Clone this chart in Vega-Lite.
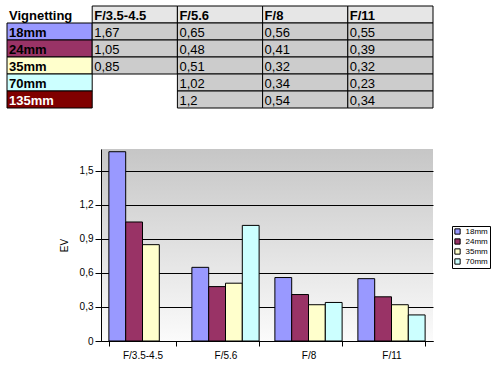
{
  "$schema": "https://vega.github.io/schema/vega-lite/v6.json",
  "padding": {"left": 6, "top": 5, "right": 0, "bottom": 0},
  "background": "white",
  "datasets": {
    "vig": [
      {"lens": "18mm", "fstop": "F/3.5-4.5", "ev": 1.67},
      {"lens": "18mm", "fstop": "F/5.6", "ev": 0.65},
      {"lens": "18mm", "fstop": "F/8", "ev": 0.56},
      {"lens": "18mm", "fstop": "F/11", "ev": 0.55},
      {"lens": "24mm", "fstop": "F/3.5-4.5", "ev": 1.05},
      {"lens": "24mm", "fstop": "F/5.6", "ev": 0.48},
      {"lens": "24mm", "fstop": "F/8", "ev": 0.41},
      {"lens": "24mm", "fstop": "F/11", "ev": 0.39},
      {"lens": "35mm", "fstop": "F/3.5-4.5", "ev": 0.85},
      {"lens": "35mm", "fstop": "F/5.6", "ev": 0.51},
      {"lens": "35mm", "fstop": "F/8", "ev": 0.32},
      {"lens": "35mm", "fstop": "F/11", "ev": 0.32},
      {"lens": "70mm", "fstop": "F/5.6", "ev": 1.02},
      {"lens": "70mm", "fstop": "F/8", "ev": 0.34},
      {"lens": "70mm", "fstop": "F/11", "ev": 0.23},
      {"lens": "135mm", "fstop": "F/5.6", "ev": 1.2},
      {"lens": "135mm", "fstop": "F/8", "ev": 0.54},
      {"lens": "135mm", "fstop": "F/11", "ev": 0.34}
    ],
    "fstops": [{"fstop": "F/3.5-4.5"}, {"fstop": "F/5.6"}, {"fstop": "F/8"}, {"fstop": "F/11"}],
    "lenses": [{"lens": "18mm"}, {"lens": "24mm"}, {"lens": "35mm"}, {"lens": "70mm"}, {"lens": "135mm"}],
    "title": [{"t": "Vignetting"}]
  },
  "config": {
    "locale": {"number": {"decimal": ",", "thousands": ".", "grouping": [3], "currency": ["", " €"]}},
    "font": "Liberation Sans",
    "view": {"stroke": null},
    "axis": {
      "domainColor": "black", "tickColor": "black", "gridColor": "black", "gridOpacity": 1,
      "labelColor": "black", "labelFont": "Liberation Sans", "labelFontSize": 10,
      "titleFont": "Liberation Sans", "titleFontSize": 10, "titleFontWeight": "normal", "titleColor": "black"
    }
  },
  "spacing": 41,
  "bounds": "flush",
  "resolve": {"scale": {"fill": "independent"}, "legend": {"fill": "independent"}},
  "vconcat": [
    {
      "width": 426,
      "height": 102,
      "layer": [
        {
          "data": {"name": "fstops"},
          "mark": {"type": "rect", "fill": "#e6e6e6", "stroke": "black", "strokeWidth": 1},
          "encoding": {
            "x": {"field": "fstop", "type": "nominal", "axis": null, "scale": {"domain": ["lens", "F/3.5-4.5", "F/5.6", "F/8", "F/11"], "paddingInner": 0, "paddingOuter": 0}},
            "y": {"datum": "head", "type": "nominal", "axis": null, "scale": {"domain": ["head", "18mm", "24mm", "35mm", "70mm", "135mm"], "paddingInner": 0, "paddingOuter": 0}}
          }
        },
        {
          "data": {"name": "fstops"},
          "mark": {"type": "text", "align": "left", "baseline": "middle", "dx": 2, "dy": 1, "fontSize": 13, "fontWeight": "bold", "color": "black"},
          "encoding": {
            "x": {"field": "fstop", "type": "nominal", "bandPosition": 0, "axis": null, "scale": {"domain": ["lens", "F/3.5-4.5", "F/5.6", "F/8", "F/11"], "paddingInner": 0, "paddingOuter": 0}},
            "y": {"datum": "head", "type": "nominal", "axis": null, "scale": {"domain": ["head", "18mm", "24mm", "35mm", "70mm", "135mm"], "paddingInner": 0, "paddingOuter": 0}},
            "text": {"field": "fstop"}
          }
        },
        {
          "data": {"name": "title"},
          "mark": {"type": "text", "align": "left", "baseline": "middle", "dx": 2, "dy": 1, "fontSize": 13, "fontWeight": "bold", "color": "black"},
          "encoding": {
            "x": {"datum": "lens", "type": "nominal", "bandPosition": 0, "axis": null, "scale": {"domain": ["lens", "F/3.5-4.5", "F/5.6", "F/8", "F/11"], "paddingInner": 0, "paddingOuter": 0}},
            "y": {"datum": "head", "type": "nominal", "axis": null, "scale": {"domain": ["head", "18mm", "24mm", "35mm", "70mm", "135mm"], "paddingInner": 0, "paddingOuter": 0}},
            "text": {"field": "t"}
          }
        },
        {
          "data": {"name": "lenses"},
          "mark": {"type": "rect", "stroke": "black", "strokeWidth": 1},
          "encoding": {
            "x": {"datum": "lens", "type": "nominal", "axis": null, "scale": {"domain": ["lens", "F/3.5-4.5", "F/5.6", "F/8", "F/11"], "paddingInner": 0, "paddingOuter": 0}},
            "y": {"field": "lens", "type": "nominal", "axis": null, "scale": {"domain": ["head", "18mm", "24mm", "35mm", "70mm", "135mm"], "paddingInner": 0, "paddingOuter": 0}},
            "fill": {"field": "lens", "type": "nominal", "legend": null, "scale": {"domain": ["18mm", "24mm", "35mm", "70mm", "135mm"], "range": ["#9999ff", "#993366", "#ffffcc", "#ccffff", "#800000"]}}
          }
        },
        {
          "data": {"name": "lenses"},
          "mark": {"type": "text", "align": "left", "baseline": "middle", "dx": 2, "dy": 1, "fontSize": 13, "fontWeight": "bold"},
          "encoding": {
            "x": {"datum": "lens", "type": "nominal", "bandPosition": 0, "axis": null, "scale": {"domain": ["lens", "F/3.5-4.5", "F/5.6", "F/8", "F/11"], "paddingInner": 0, "paddingOuter": 0}},
            "y": {"field": "lens", "type": "nominal", "axis": null, "scale": {"domain": ["head", "18mm", "24mm", "35mm", "70mm", "135mm"], "paddingInner": 0, "paddingOuter": 0}},
            "text": {"field": "lens"},
            "color": {"condition": {"test": "datum.lens === '135mm'", "value": "white"}, "value": "black"}
          }
        },
        {
          "data": {"name": "vig"},
          "mark": {"type": "rect", "fill": "#cccccc", "stroke": "black", "strokeWidth": 1},
          "encoding": {
            "x": {"field": "fstop", "type": "nominal", "axis": null, "scale": {"domain": ["lens", "F/3.5-4.5", "F/5.6", "F/8", "F/11"], "paddingInner": 0, "paddingOuter": 0}},
            "y": {"field": "lens", "type": "nominal", "axis": null, "scale": {"domain": ["head", "18mm", "24mm", "35mm", "70mm", "135mm"], "paddingInner": 0, "paddingOuter": 0}}
          }
        },
        {
          "data": {"name": "vig"},
          "mark": {"type": "text", "align": "left", "baseline": "middle", "dx": 2, "dy": 1, "fontSize": 13, "color": "black"},
          "encoding": {
            "x": {"field": "fstop", "type": "nominal", "bandPosition": 0, "axis": null, "scale": {"domain": ["lens", "F/3.5-4.5", "F/5.6", "F/8", "F/11"], "paddingInner": 0, "paddingOuter": 0}},
            "y": {"field": "lens", "type": "nominal", "axis": null, "scale": {"domain": ["head", "18mm", "24mm", "35mm", "70mm", "135mm"], "paddingInner": 0, "paddingOuter": 0}},
            "text": {"field": "ev", "type": "quantitative", "format": ".2~f"}
          }
        }
      ]
    },
    {
      "hconcat": [
        {
          "width": 94,
          "height": 192,
          "data": {"values": []},
          "mark": {"type": "point", "opacity": 0},
          "encoding": {}
        },
        {
          "width": 332,
          "height": 192,
          "view": {
            "stroke": null,
            "fill": {"gradient": "linear", "x1": 0, "y1": 0, "x2": 0, "y2": 1, "stops": [{"offset": 0, "color": "#c6c6c6"}, {"offset": 1, "color": "#fbfbfb"}]}
          },
          "data": {"name": "vig"},
          "transform": [{"filter": "datum.lens !== '135mm'"}],
          "mark": {"type": "bar", "stroke": "black", "strokeWidth": 1},
          "encoding": {
            "x": {
              "field": "fstop", "type": "nominal",
              "scale": {"domain": ["F/3.5-4.5", "F/5.6", "F/8", "F/11"], "paddingInner": 0.19, "paddingOuter": 0.095},
              "axis": {"title": null, "labelAngle": 0, "tickBand": "extent", "tickSize": 5, "labelPadding": 4, "grid": false}
            },
            "xOffset": {
              "field": "lens", "type": "nominal",
              "scale": {"domain": ["18mm", "24mm", "35mm", "70mm"], "paddingInner": 0, "paddingOuter": 0}
            },
            "y": {
              "field": "ev", "type": "quantitative",
              "scale": {"domain": [0, 1.6941], "nice": false},
              "axis": {"title": "EV", "values": [0, 0.3, 0.6, 0.9, 1.2, 1.5], "format": ".1~f", "tickSize": 6, "labelPadding": 2, "titlePadding": 10, "grid": true, "gridWidth": 1}
            },
            "fill": {
              "field": "lens", "type": "nominal",
              "scale": {"domain": ["18mm", "24mm", "35mm", "70mm"], "range": ["#9999ff", "#993366", "#ffffcc", "#ccffff"]},
              "legend": {
                "title": null, "orient": "none", "legendX": 445, "legendY": 77,
                "strokeColor": "black", "padding": 1.5, "fillColor": "white",
                "symbolType": "square", "symbolSize": 28, "symbolStrokeColor": "black", "symbolStrokeWidth": 1,
                "labelFontSize": 8, "labelColor": "black", "labelOffset": 4, "rowPadding": 0
              }
            }
          }
        }
      ],
      "spacing": 0,
      "bounds": "flush"
    }
  ]
}
